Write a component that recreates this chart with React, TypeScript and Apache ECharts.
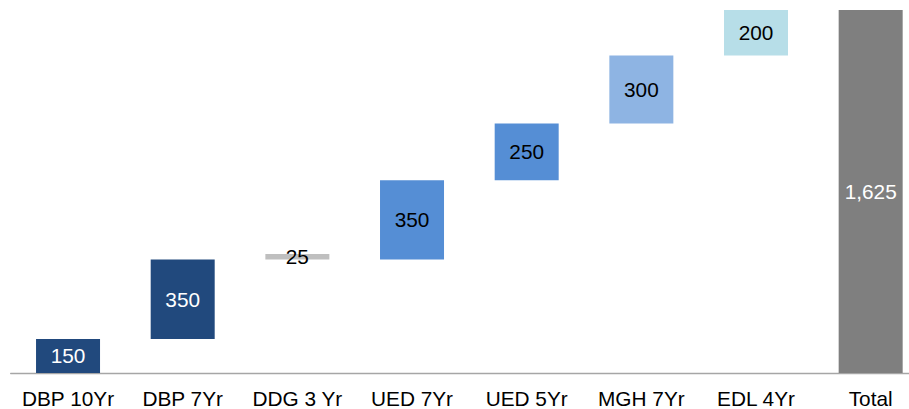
import React, { useEffect, useRef } from "react";
import * as echarts from "echarts";

const categories = ["DBP 10Yr", "DBP 7Yr", "DDG 3 Yr", "UED 7Yr", "UED 5Yr", "MGH 7Yr", "EDL 4Yr", "Total"];
// Displayed values (labels)
const labelValues = [150, 350, 25, 350, 250, 300, 200, 1625];
// Floating-bar start levels and drawn heights
const barStarts = [0, 150, 500, 500, 850, 1100, 1400, 0];
const barHeights = [150, 350, 25, 350, 250, 300, 200, 1600];
const barColors = ["#21497D", "#21497D", "#BFBFBF", "#558ED5", "#558ED5", "#8EB4E3", "#B7DEE8", "#7F7F7F"];
const labelColors = ["#FFFFFF", "#FFFFFF", "#000000", "#000000", "#000000", "#000000", "#000000", "#FFFFFF"];

export default function App() {
  const ref = useRef<HTMLDivElement>(null);
  useEffect(() => {
    document.body.style.margin = "0";
    const chart = echarts.init(ref.current!, null, { renderer: "svg" });
    chart.setOption({
      animation: false,
      grid: { left: 10.7, right: 0, top: 10, bottom: 34.5, containLabel: false },
      xAxis: {
        type: "category",
        data: categories,
        axisLine: { lineStyle: { color: "#A6A6A6", width: 1.3 } },
        axisTick: { show: false },
        axisLabel: { color: "#000", fontSize: 20.8, fontFamily: "Liberation Sans, Arial", margin: 15, interval: 0 },
      },
      yAxis: { type: "value", min: 0, max: 1600, show: false, splitLine: { show: false } },
      series: [
        {
          type: "bar",
          stack: "w",
          barWidth: 64,
          silent: true,
          itemStyle: { color: "transparent" },
          data: barStarts,
        },
        {
          type: "bar",
          stack: "w",
          barWidth: 64,
          data: barHeights.map((v, i) => ({
            value: v,
            itemStyle: { color: barColors[i] },
            label: { color: labelColors[i] },
          })),
          label: {
            show: true,
            position: "inside",
            fontSize: 20.8,
            fontFamily: "Liberation Sans, Arial",
            formatter: (p: any) => labelValues[p.dataIndex].toLocaleString("en-US"),
          },
        },
      ],
    });
    return () => chart.dispose();
  }, []);
  return (
    <div style={{ width: 909, height: 409, overflow: "hidden", position: "relative" }}>
      <div ref={ref} style={{ width: 927.5, height: 409, position: "absolute", left: 0, top: 0 }} />
    </div>
  );
}
